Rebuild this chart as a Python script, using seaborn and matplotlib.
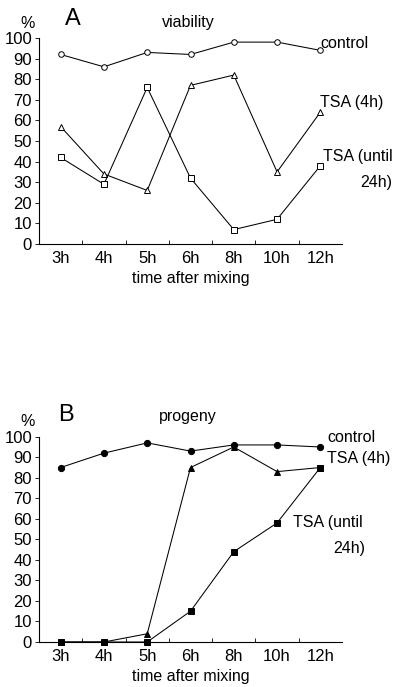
import seaborn as sns
import matplotlib.pyplot as plt
from matplotlib.ticker import FixedLocator

times = ['3h', '4h', '5h', '6h', '8h', '10h', '12h']

# panel A - viability (%)
viabControl = [92, 86, 93, 92, 98, 98, 94]
viabTsa4h = [57, 34, 26, 77, 82, 35, 64]
viabTsa24h = [42, 29, 76, 32, 7, 12, 38]

# panel B - progeny (%)
progControl = [85, 92, 97, 93, 96, 96, 95]
progTsa4h = [0, 0, 4, 85, 95, 83, 85]
progTsa24h = [0, 0, 0, 15, 44, 58, 85]

yTicks = list(range(0, 101, 10))

sns.set_style('white')
plt.rcParams['font.family'] = ['Liberation Sans', 'DejaVu Sans']
for k in ['text.color', 'axes.labelcolor', 'xtick.color', 'ytick.color']:
    plt.rcParams[k] = 'black'

fig = plt.figure(figsize=(4, 6.87), dpi=100)
axA = fig.add_axes([0.0975, 0.6448, 0.7575, 0.2999])
axB = fig.add_axes([0.0975, 0.0655, 0.7575, 0.2988])


def drawPanel(ax, series, face, msize):
    for vals, mk in series:
        sns.lineplot(x=times, y=vals, ax=ax, color='black', linewidth=0.75,
                     marker=mk, markersize=msize,
                     markerfacecolor=face, markeredgecolor='black',
                     markeredgewidth=0.7, clip_on=False, sort=False)
    ax.set_xlim(-0.5, 6.5)
    ax.set_ylim(0, 100)
    ax.set_yticks(yTicks)
    ax.xaxis.set_minor_locator(FixedLocator([0.5, 1.5, 2.5, 3.5, 4.5, 5.5]))
    ax.tick_params(axis='x', which='major', length=0, labelsize=12, pad=5)
    ax.tick_params(axis='x', which='minor', direction='in', length=3, width=0.6, bottom=True)
    ax.tick_params(axis='y', direction='out', length=3, width=0.6, labelsize=12, pad=2, left=True)
    ax.set_xlabel('time after mixing', fontsize=11.5, labelpad=3.5)
    ax.set_ylabel('')
    for s in ['top', 'right']:
        ax.spines[s].set_visible(False)
    for s in ['left', 'bottom']:
        ax.spines[s].set_linewidth(0.8)
        ax.spines[s].set_color('black')


drawPanel(axA, [(viabControl, 'o'), (viabTsa4h, '^'), (viabTsa24h, 's')], 'white', 4)
drawPanel(axB, [(progControl, 'o'), (progTsa4h, '^'), (progTsa24h, 's')], 'black', 4.5)

# panel A labels
fig.text(28 / 400, 1 - 23 / 687, '%', fontsize=11.5, ha='center', va='center')
fig.text(65 / 400, 1 - 19 / 687, 'A', fontsize=17, ha='left', va='center')
fig.text(188 / 400, 1 - 22 / 687, 'viability', fontsize=11.5, ha='center', va='center')
fig.text(320 / 400, 1 - 43 / 687, 'control', fontsize=11.5, ha='left', va='center')
fig.text(320 / 400, 1 - 103 / 687, 'TSA (4h)', fontsize=11.5, ha='left', va='center')
fig.text(323 / 400, 1 - 157 / 687, 'TSA (until', fontsize=11.5, ha='left', va='center')
fig.text(360 / 400, 1 - 182 / 687, '24h)', fontsize=11.5, ha='left', va='center')

# panel B labels
fig.text(28 / 400, 1 - 422 / 687, '%', fontsize=11.5, ha='center', va='center')
fig.text(58 / 400, 1 - 415 / 687, 'B', fontsize=17, ha='left', va='center')
fig.text(188 / 400, 1 - 416 / 687, 'progeny', fontsize=11.5, ha='center', va='center')
fig.text(327 / 400, 1 - 438 / 687, 'control', fontsize=11.5, ha='left', va='center')
fig.text(327 / 400, 1 - 459 / 687, 'TSA (4h)', fontsize=11.5, ha='left', va='center')
fig.text(293 / 400, 1 - 523 / 687, 'TSA (until', fontsize=11.5, ha='left', va='center')
fig.text(333 / 400, 1 - 548 / 687, '24h)', fontsize=11.5, ha='left', va='center')

fig.savefig('out.png', dpi=100)
